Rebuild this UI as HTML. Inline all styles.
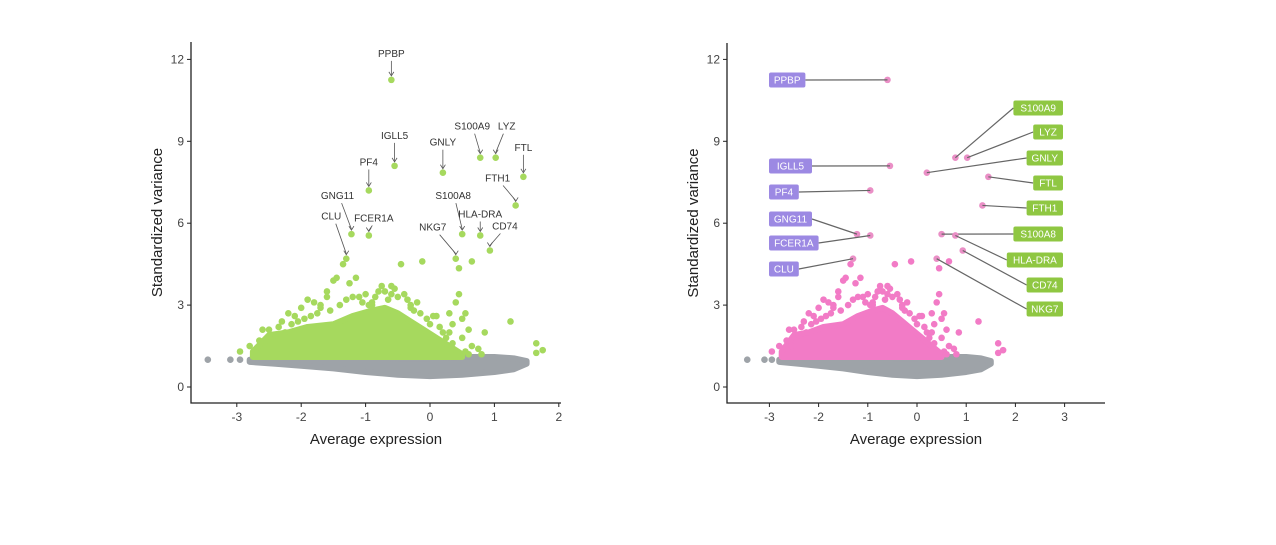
<!DOCTYPE html>
<html><head><meta charset="utf-8"><style>
body{margin:0;background:#fff;}
svg{display:block;font-family:"Liberation Sans",Arial,sans-serif;}
</style></head><body>
<svg id="c" width="1276" height="545" viewBox="0 0 1276 545"></svg>
<script>
// ---- data ----
const genes = ["PPBP","IGLL5","PF4","GNG11","FCER1A","CLU","GNLY","S100A9","LYZ","FTL","FTH1","S100A8","HLA-DRA","CD74","NKG7"];
const geneX = [-0.6,-0.55,-0.95,-1.22,-0.95,-1.3,0.2,0.78,1.02,1.45,1.33,0.5,0.78,0.93,0.4];
const geneY = [11.25,8.1,7.2,5.6,5.55,4.7,7.85,8.4,8.4,7.7,6.65,5.6,5.55,5.0,4.7];
const outX = [-2.95,-2.8,-2.6,-2.5,-2.3,-2.1,-2.0,-1.9,-1.8,-1.6,-1.5,-1.45,-1.25,-1.15,-1.35,-0.85,-0.75,-0.7,-0.5,-0.4,-0.3,-0.15,0.1,0.3,0.4,0.45,0.5,0.55,0.6,0.5,0.65,0.75,0.85,0.8,1.25,1.65,1.65,1.75,-0.45,-0.12,0.45,0.65,-1.1,-0.95,-0.6,-2.2,-1.7,
 -2.65,-2.4,-2.35,-2.15,-1.95,-1.85,-1.7,-1.55,-1.4,-1.3,-1.05,-1.0,-0.9,-0.8,-0.65,-0.55,-0.35,-0.25,-0.2,-0.05,0.0,0.15,0.2,0.25,0.35,0.35,0.55,0.6,-2.55,-2.25,-2.05,-1.75,-1.6,-1.2,-0.6,-0.9,-0.3,0.05,0.3];
const outY = [1.3,1.5,2.1,2.1,2.4,2.6,2.9,3.2,3.1,3.5,3.9,4.0,3.8,4.0,4.5,3.3,3.7,3.5,3.3,3.4,3.0,2.7,2.6,2.7,3.1,3.4,2.5,2.7,2.1,1.8,1.5,1.4,2.0,1.2,2.4,1.6,1.25,1.35,4.5,4.6,4.35,4.6,3.3,3.0,3.4,2.7,3.0,
 1.7,1.9,2.2,2.3,2.5,2.6,2.9,2.8,3.0,3.2,3.1,3.4,3.1,3.5,3.2,3.6,3.2,2.8,3.1,2.5,2.3,2.2,2.0,1.8,1.6,2.3,1.3,1.2,1.5,2.0,2.4,2.7,3.3,3.3,3.7,3.0,2.9,2.6,2.0];
const coreX = [-2.75,-2.5,-2.2,-1.9,-1.5,-1.2,-0.9,-0.7,-0.5,-0.3,-0.1,0.1,0.3,0.5];
const coreTop = [1.3,1.9,2.0,2.2,2.3,2.6,2.8,2.9,2.7,2.4,2.1,1.8,1.5,1.2];
const coreBase = 1.1;
const grayX = [-2.8,-2.4,-2.0,-1.5,-1.0,-0.5,0.0,0.5,1.0,1.3,1.5];
const grayTop = [1.0,1.05,1.1,1.1,1.1,1.05,1.05,1.1,1.1,1.05,0.95];
const grayBot = [0.92,0.85,0.78,0.68,0.55,0.45,0.4,0.45,0.55,0.65,0.85];
const lowX = [-3.45,-3.1,-2.95];
const lowY = [1.0,1.0,1.0];
const yTicks = [0,3,6,9,12];
const xTicksL = [-3,-2,-1,0,1,2];
const xTicksR = [-3,-2,-1,0,1,2,3];

const NS="http://www.w3.org/2000/svg";
const svg=document.getElementById('c');
function el(tag,attrs,parent){const e=document.createElementNS(NS,tag);for(const k in attrs)e.setAttribute(k,attrs[k]);(parent||svg).appendChild(e);return e;}

function plot(cfg){
  const g=el('g',{});
  
  
  const X=v=>cfg.x0+v*cfg.xs, Y=v=>cfg.y0-v*cfg.ys;
  let pts=grayX.map((x,i)=>X(x)+','+Y(grayTop[i])).concat(grayX.slice().reverse().map((x,i)=>X(x)+','+Y(grayBot[grayX.length-1-i])));
  const gb=el('polygon',{points:pts.join(' '),fill:'#9ea3a8',stroke:'#9ea3a8','stroke-width':6,'stroke-linejoin':'round'},g);
  
  
  lowX.forEach((x,i)=>{const c=el('circle',{cx:X(x),cy:Y(lowY[i]),r:3.3,fill:'#9ea3a8'},g);
    
    });
  pts=coreX.map((x,i)=>X(x)+','+Y(coreTop[i])).concat([X(coreX[coreX.length-1])+','+Y(coreBase),X(coreX[0])+','+Y(coreBase)]);
  const cp=el('polygon',{points:pts.join(' '),fill:cfg.col,stroke:cfg.col,'stroke-width':6,'stroke-linejoin':'round'},g);
  
  
  outX.forEach((x,i)=>{const c=el('circle',{cx:X(x),cy:Y(outY[i]),r:3.3,fill:cfg.col},g);
    
    });
  genes.forEach((n,i)=>{
    const px=X(geneX[i]),py=Y(geneY[i]);
    const c=el('circle',{cx:px,cy:py,r:3.3,fill:cfg.ptcol},g);
    
    
    cfg.label(g,n,i,px,py);
  });
  const ax=el('path',{d:`M${cfg.axL} ${cfg.top} V${cfg.axB} H${cfg.axR}`,fill:'none',stroke:'#222','stroke-width':1.3},g);
  
  
  yTicks.forEach(t=>{
    el('line',{x1:cfg.axL-4,x2:cfg.axL,y1:Y(t),y2:Y(t),stroke:'#222'},g);
    const tx=el('text',{x:cfg.axL-7,y:Y(t)+4,'text-anchor':'end','font-size':12,fill:'#444'},g);
    tx.textContent=t;
    
    
  });
  cfg.xt.forEach(t=>{
    el('line',{x1:X(t),x2:X(t),y1:cfg.axB,y2:cfg.axB+4,stroke:'#222'},g);
    const tx=el('text',{x:X(t),y:cfg.axB+18,'text-anchor':'middle','font-size':12,fill:'#444'},g);
    tx.textContent=t;
    
    
  });
  const xt=el('text',{x:cfg.xTitle,y:cfg.axB+41,'text-anchor':'middle','font-size':15,fill:'#222'},g);
  xt.textContent='Average expression';
  
  
  const yt=el('text',{x:0,y:0,'text-anchor':'middle','font-size':15,fill:'#222',transform:`translate(${cfg.axL-29},${(cfg.top+cfg.axB)/2}) rotate(-90)`},g);
  yt.textContent='Standardized variance';
  
  
}

const lOff={"PPBP":[0,-23],"IGLL5":[0,-27],"PF4":[0,-25],"GNG11":[-14,-35],"FCER1A":[5,-14],"CLU":[-15,-39],"GNLY":[0,-27],"S100A9":[-8,-28],"LYZ":[11,-28],"FTL":[0,-26],"FTH1":[-18,-24],"S100A8":[-9,-35],"HLA-DRA":[0,-18],"CD74":[15,-21],"NKG7":[-23,-28]};
function leftLabel(g,n,i,px,py){
  const o=lOff[n];
  const tx=px+o[0],ty=py+o[1];
  const t=el('text',{x:tx,y:ty,'text-anchor':'middle','font-size':10,fill:'#333'},g);
  t.textContent=n;
  
  
  const sx=tx-o[0]*0.3, sy=ty+4;
  el('line',{x1:sx,y1:sy,x2:px,y2:py-5,stroke:'#555','stroke-width':0.8},g);
  el('path',{d:`M${px-2.5} ${py-8} L${px} ${py-4} L${px+2.5} ${py-8}`,fill:'none',stroke:'#555','stroke-width':0.8},g);
}
const rPurple={"PPBP":80,"IGLL5":166,"PF4":192,"GNG11":219,"FCER1A":243,"CLU":269};
const rGreen={"S100A9":108,"LYZ":132,"GNLY":158,"FTL":183,"FTH1":208,"S100A8":234,"HLA-DRA":260,"CD74":285,"NKG7":309};
function rightLabel(g,n,i,px,py){
  const w=n.length*6.6+10, h=15;
  let bx,by,lx;
  if(rPurple[n]!==undefined){bx=769;by=rPurple[n]-h/2;lx=bx+w;}
  else{bx=1063-w;by=rGreen[n]-h/2;lx=bx;}
  el('line',{x1:lx,y1:by+h/2,x2:px,y2:py,stroke:'#666','stroke-width':1.2},g);
  const r=el('rect',{x:bx,y:by,width:w,height:h,rx:2,fill:rPurple[n]!==undefined?'#9c89e3':'#8fc742'},g);
  
  
  const t=el('text',{x:bx+w/2,y:by+11,'text-anchor':'middle','font-size':10,fill:'#fff'},g);
  t.textContent=n;
  
  
}
plot({name:'left-plot',x0:430,xs:64.4,y0:387,ys:27.3,col:'#a6d95e',ptcol:'#a6d95e',label:leftLabel,axL:191,axR:561,axB:403,top:42,xt:xTicksL,xTitle:376});
plot({name:'right-plot',x0:917,xs:49.2,y0:387,ys:27.3,col:'#f27bc6',ptcol:'#ea8fc6',label:rightLabel,axL:727,axR:1105,axB:403,top:43,xt:xTicksR,xTitle:916});
</script>
</body></html>
